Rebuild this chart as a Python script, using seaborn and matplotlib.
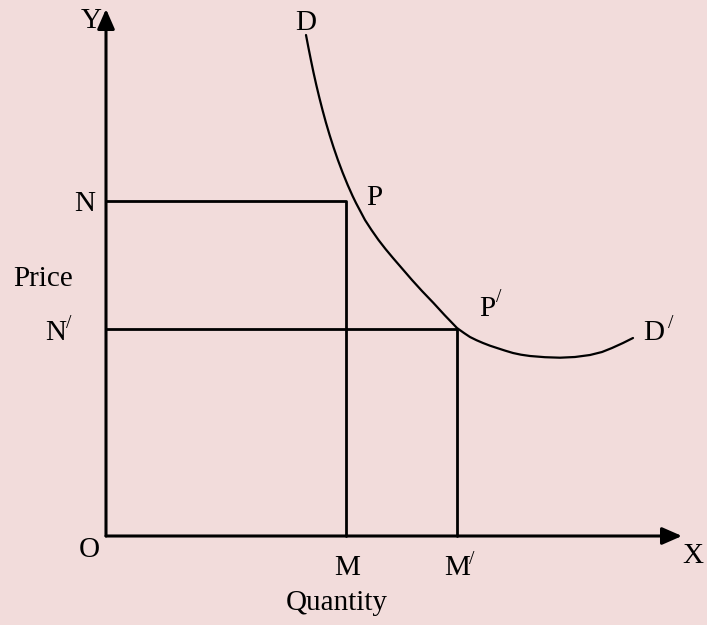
import numpy as np
import pandas as pd
import matplotlib.pyplot as plt
import seaborn as sns

# demand curve D-D' (quantity, price)
quantity = [200, 202.4, 204.9, 207.5, 210.3, 213.3, 216.5, 219.9, 223.6,
            227.6, 231.9, 236.6, 241.7, 246.6, 250, 259, 265.5, 272.5,
            279.5, 287, 296.5, 306, 316, 327.5, 338.5, 351, 358, 364, 370.5,
            377, 384, 391, 399, 407, 415, 424, 439, 454, 469, 484, 496, 506,
            517, 527]
price = [501, 488.5, 476, 463.5, 451, 438.5, 426, 413.5, 401, 388.5, 376,
         363.5, 351, 340, 333, 316, 306, 296, 287, 278, 267, 256, 245, 233,
         221, 208, 203, 199, 195.8, 193, 190.3, 188, 185.4, 183, 181.3, 180,
         178.8, 178.3, 179, 181, 184, 188, 193, 198]

# the two price/quantity points
N_price = [335, 207]
M_qty = [240, 351]
point_names = ['P', 'P']

x_end = 576
y_end = 527

bg = '#f2dcdb'
sns.set_style('white', {'axes.facecolor': bg, 'figure.facecolor': bg})
plt.rcParams['font.family'] = ['Liberation Serif', 'DejaVu Serif']

fig = plt.figure(figsize=(7.07, 6.25), dpi=100)
ax = fig.add_axes([0, 0, 1, 1])
ax.set_xlim(-106, 601)
ax.set_ylim(-89, 536)
ax.axis('off')

# axes with arrows
arrow = dict(arrowstyle='-|>,head_length=0.8,head_width=0.35', lw=2.2,
             color='black', mutation_scale=15, shrinkA=0, shrinkB=0)
ax.annotate('', xy=(x_end, 0), xytext=(0, 0), arrowprops=arrow)
ax.annotate('', xy=(0, y_end), xytext=(0, 0), arrowprops=arrow)

# rectangles under the curve
for n, m in zip(N_price, M_qty):
    rect = pd.DataFrame({'q': [0, m, m], 'p': [n, n, 0]})
    sns.lineplot(data=rect, x='q', y='p', sort=False, color='black',
                 lw=2.0, ax=ax, estimator=None)

# demand curve
curve = pd.DataFrame({'q': quantity, 'p': price})
sns.lineplot(data=curve, x='q', y='p', sort=False, color='black', lw=1.6,
             ax=ax, estimator=None)

fs = 21
txt = dict(fontsize=fs, ha='center', va='center', color='black')
prime = dict(fontsize=14, ha='center', va='center', color='black')

ax.text(-15, 515, 'Y', **txt)
ax.text(587, -20, 'X', **txt)
ax.text(-17, -14, 'O', **txt)
ax.text(quantity[0], 513, 'D', **txt)
ax.text(548, 203, 'D', **txt)
ax.text(565, 213, '/', **prime)

ax.text(-21, N_price[0] - 3, 'N', **txt)
ax.text(-50, N_price[1] - 4, 'N', **txt)
ax.text(-37, N_price[1] + 6, '/', **prime)
ax.text(-63, 257, 'Price', **txt)

ax.text(M_qty[0] + 1, -32, 'M', **txt)
ax.text(M_qty[1], -32, 'M', **txt)
ax.text(M_qty[1] + 15, -23, '/', **prime)
ax.text(231, -67, 'Quantity', **txt)

ax.text(268, 338, point_names[0], **txt)
ax.text(381, 227, point_names[1], **txt)
ax.text(393, 238, '/', **prime)

fig.savefig('out.png', dpi=100, facecolor=bg)
